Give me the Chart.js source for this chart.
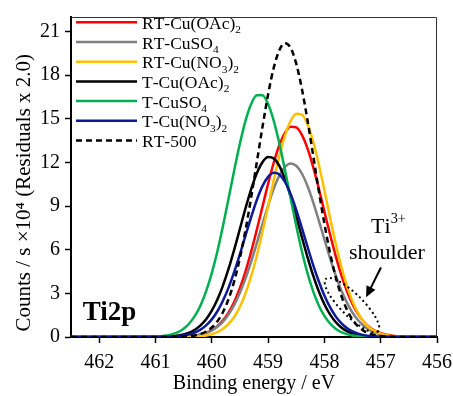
<!DOCTYPE html>
<html>
<head>
<meta charset="utf-8">
<script src="https://cdn.jsdelivr.net/npm/chart.js@4.4.0/dist/chart.umd.min.js"></script>
<style>
  html, body { margin: 0; padding: 0; background: #fff; }
  #wrap { width: 453px; height: 396px; }
</style>
</head>
<body>
<div id="wrap"><canvas id="chart" width="453" height="396"></canvas></div>
<script>
// Binding energy grid (eV)
const energies = [462.5,
  461.0, 460.9, 460.8, 460.7, 460.6, 460.5, 460.4, 460.3, 460.2, 460.1,
  460.0, 459.9, 459.8, 459.7, 459.6, 459.5, 459.4, 459.3, 459.2, 459.1,
  459.0, 458.9, 458.8, 458.7, 458.6, 458.5, 458.4, 458.3, 458.2, 458.1,
  458.0, 457.9, 457.8, 457.7, 457.6, 457.5, 457.4, 457.3, 457.2, 457.1,
  457.0, 456.9, 456.8, 456.7, 456.6,
  456.0];

// Counts / s x10^4
const rtCuOAc = [0,
  0.00, 0.00, 0.00, 0.01, 0.01, 0.03, 0.05, 0.10, 0.17, 0.29,
  0.47, 0.75, 1.14, 1.69, 2.43, 3.37, 4.52, 5.87, 7.37, 8.95,
  10.53, 11.98, 13.18, 14.04, 14.46, 14.41, 13.90, 12.97, 11.70, 10.22,
  8.63, 7.06, 5.58, 4.27, 3.16, 2.26, 1.57, 1.05, 0.68, 0.43,
  0.26, 0.15, 0.09, 0.05, 0.03,
  0];
const rtCuSO4 = [0,
  0.00, 0.00, 0.00, 0.01, 0.02, 0.03, 0.05, 0.09, 0.16, 0.28,
  0.45, 0.70, 1.06, 1.56, 2.21, 3.04, 4.03, 5.18, 6.45, 7.76,
  9.04, 10.18, 11.09, 11.69, 11.93, 11.77, 11.24, 10.38, 9.28, 8.02,
  6.71, 5.43, 4.25, 3.22, 2.36, 1.67, 1.15, 0.76, 0.49, 0.30,
  0.18, 0.11, 0.06, 0.03, 0.01,
  0];
const rtCuNO3 = [0,
  0.00, 0.00, 0.00, 0.00, 0.00, 0.01, 0.01, 0.03, 0.06, 0.11,
  0.19, 0.33, 0.56, 0.90, 1.39, 2.08, 3.01, 4.18, 5.59, 7.22,
  8.98, 10.77, 12.44, 13.84, 14.85, 15.35, 15.29, 14.63, 13.45, 11.88,
  10.09, 8.23, 6.44, 4.85, 3.51, 2.44, 1.63, 1.04, 0.64, 0.38,
  0.22, 0.12, 0.06, 0.03, 0.01,
  0];
const tCuOAc = [0,
  0.01, 0.01, 0.03, 0.05, 0.10, 0.18, 0.30, 0.50, 0.80, 1.22,
  1.81, 2.58, 3.55, 4.71, 6.03, 7.44, 8.86, 10.17, 11.26, 12.02,
  12.37, 12.28, 11.76, 10.85, 9.67, 8.30, 6.87, 5.49, 4.23, 3.14,
  2.25, 1.55, 1.03, 0.66, 0.41, 0.25, 0.14, 0.08, 0.04, 0.02,
  0.01, 0.00, 0.00, 0.00, 0.00,
  0];
const tCuSO4 = [0,
  0.03, 0.06, 0.11, 0.20, 0.34, 0.57, 0.93, 1.45, 2.17, 3.15,
  4.39, 5.90, 7.65, 9.55, 11.48, 13.31, 14.88, 16.02, 16.62, 16.62,
  16.02, 14.88, 13.31, 11.48, 9.55, 7.65, 5.90, 4.39, 3.15, 2.17,
  1.45, 0.93, 0.57, 0.34, 0.20, 0.11, 0.06, 0.03, 0.01, 0.01,
  0.00, 0.00, 0.00, 0.00, 0.00,
  0];
const tCuNO3 = [0,
  0.00, 0.01, 0.02, 0.03, 0.06, 0.11, 0.18, 0.31, 0.51, 0.80,
  1.21, 1.77, 2.51, 3.41, 4.49, 5.70, 6.98, 8.25, 9.42, 10.37,
  11.01, 11.29, 11.17, 10.67, 9.83, 8.74, 7.50, 6.21, 4.96, 3.83,
  2.85, 2.05, 1.42, 0.95, 0.61, 0.38, 0.23, 0.13, 0.07, 0.04,
  0.02, 0.01, 0.00, 0.00, 0.00,
  0];
const rt500 = [0,
  0.00, 0.00, 0.00, 0.01, 0.01, 0.03, 0.06, 0.11, 0.21, 0.38,
  0.65, 1.08, 1.72, 2.63, 3.86, 5.44, 7.37, 9.60, 12.01, 14.43,
  16.67, 18.50, 19.72, 20.20, 19.88, 18.79, 17.07, 14.90, 12.50, 10.07,
  7.80, 5.80, 4.14, 2.84, 1.88, 1.19, 0.72, 0.42, 0.24, 0.13,
  0.07, 0.03, 0.01, 0.00, 0.00,
  0];

const seriesLabels = ['RT-Cu(OAc)₂', 'RT-CuSO₄', 'RT-Cu(NO₃)₂', 'T-Cu(OAc)₂', 'T-CuSO₄', 'T-Cu(NO₃)₂', 'RT-500'];
const seriesValues = [rtCuOAc, rtCuSO4, rtCuNO3, tCuOAc, tCuSO4, tCuNO3, rt500];
const seriesColors = ['#ff0000', '#808080', '#ffc000', '#000000', '#00b050', '#0c1a9a', '#000000'];
const seriesOrder = [6, 5, 4, 3, 2, 1, 0];

const xTicks = [456, 457, 458, 459, 460, 461, 462];
const yTicks = [0, 3, 6, 9, 12, 15, 18, 21];

const SERIF = "'Liberation Serif', 'Times New Roman', serif";
Chart.defaults.font.family = SERIF;
Chart.defaults.color = '#000';

const datasets = seriesLabels.map((label, i) => ({
  label: label,
  data: energies.map((e, j) => ({ x: e, y: seriesValues[i][j] })),
  borderColor: seriesColors[i],
  borderWidth: 2.5,
  borderDash: label === 'RT-500' ? [6, 4] : [],
  pointRadius: 0,
  fill: false,
  cubicInterpolationMode: 'monotone',
  order: seriesOrder[i]
}));

// draws text where ₀-₉ become subscripts and ⁰-⁹ / ⁺ become superscripts
function drawRich(ctx, text, x, y, size, weight) {
  const subs = '₀₁₂₃₄₅₆₇₈₉', sups = '⁰¹²³⁴⁵⁶⁷⁸⁹';
  const w = weight ? weight + ' ' : '';
  ctx.textAlign = 'left';
  ctx.textBaseline = 'alphabetic';
  let cx = x;
  for (const ch of text) {
    let c = ch, s = size, dy = 0;
    if (subs.includes(ch)) { c = String(subs.indexOf(ch)); s = size * 0.65; dy = size * 0.25; }
    else if (sups.includes(ch)) { c = String(sups.indexOf(ch)); s = size * 0.65; dy = -size * 0.42; }
    else if (ch === '⁺') { c = '+'; s = size * 0.65; dy = -size * 0.42; }
    ctx.font = w + s + 'px ' + SERIF;
    ctx.fillText(c, cx, y + dy);
    cx += ctx.measureText(c).width;
  }
  return cx - x;
}

function richWidth(ctx, text, size) {
  const special = '₀₁₂₃₄₅₆₇₈₉⁰¹²³⁴⁵⁶⁷⁸⁹⁺';
  let wsum = 0;
  for (const ch of text) {
    const small = special.includes(ch);
    ctx.font = (small ? size * 0.65 : size) + 'px ' + SERIF;
    wsum += ctx.measureText(small ? '0' : ch).width;
  }
  return wsum;
}

const framePlugin = {
  id: 'frame',
  afterDraw(chart) {
    const { ctx, chartArea: a, scales: { x, y } } = chart;
    ctx.save();
    // thin top and right frame
    ctx.strokeStyle = '#333';
    ctx.lineWidth = 1;
    ctx.beginPath();
    ctx.moveTo(a.left, a.top + 0.5);
    ctx.lineTo(a.right - 0.5, a.top + 0.5);
    ctx.lineTo(a.right - 0.5, a.bottom);
    ctx.stroke();

    // legend
    ctx.fillStyle = '#000';
    chart.data.datasets.forEach((ds, i) => {
      const ly = 22.3 + i * 19.7;
      ctx.strokeStyle = ds.borderColor;
      ctx.lineWidth = 2.5;
      ctx.setLineDash(ds.borderDash);
      ctx.beginPath();
      ctx.moveTo(a.left + 5, ly);
      ctx.lineTo(a.left + 66, ly);
      ctx.stroke();
      ctx.setLineDash([]);
      drawRich(ctx, ds.label, a.left + 71, ly + 6.5, 17.5);
    });

    // Ti2p label
    ctx.fillStyle = '#000';
    ctx.font = 'bold 27px ' + SERIF;
    ctx.textAlign = 'left';
    ctx.fillText('Ti2p', x.getPixelForValue(462.29), y.getPixelForValue(1.15));

    // Ti3+ shoulder annotation
    const tx = x.getPixelForValue(456.87);
    let tw = richWidth(ctx, 'Ti³⁺', 22);
    drawRich(ctx, 'Ti³⁺', tx - tw / 2, y.getPixelForValue(7.17), 22);
    ctx.font = '22px ' + SERIF;
    ctx.textAlign = 'center';
    ctx.fillText('shoulder', x.getPixelForValue(456.89), y.getPixelForValue(5.38));

    // arrow
    const x1 = x.getPixelForValue(456.995), y1 = y.getPixelForValue(4.78);
    const x2 = x.getPixelForValue(457.26), y2 = y.getPixelForValue(2.73);
    const ang = Math.atan2(y2 - y1, x2 - x1);
    ctx.strokeStyle = '#000';
    ctx.lineWidth = 2;
    ctx.beginPath();
    ctx.moveTo(x1, y1);
    ctx.lineTo(x2 - 8 * Math.cos(ang), y2 - 8 * Math.sin(ang));
    ctx.stroke();
    ctx.beginPath();
    ctx.moveTo(x2, y2);
    ctx.lineTo(x2 - 11 * Math.cos(ang) + 5 * Math.sin(ang), y2 - 11 * Math.sin(ang) - 5 * Math.cos(ang));
    ctx.lineTo(x2 - 11 * Math.cos(ang) - 5 * Math.sin(ang), y2 - 11 * Math.sin(ang) + 5 * Math.cos(ang));
    ctx.closePath();
    ctx.fill();

    // dotted ellipse around the shoulder
    ctx.setLineDash([2, 3]);
    ctx.lineWidth = 2;
    ctx.beginPath();
    ctx.ellipse(x.getPixelForValue(457.51), y.getPixelForValue(2.19), 37, 11, Math.PI / 4, 0, Math.PI * 2);
    ctx.stroke();
    ctx.restore();
  }
};

const ctx = document.getElementById('chart').getContext('2d');
new Chart(ctx, {
  type: 'line',
  data: { datasets: datasets },
  options: {
    responsive: false,
    animation: false,
    layout: { padding: { top: 15, right: 16, left: 0, bottom: 0 } },
    plugins: { legend: { display: false }, tooltip: { enabled: false } },
    scales: {
      x: {
        type: 'linear',
        reverse: true,
        min: 456,
        max: 462.5,
        afterBuildTicks: s => { s.ticks = xTicks.map(v => ({ value: v })); },
        afterFit: s => { s.height = 59; },
        ticks: { font: { size: 20 }, color: '#000', padding: 8, maxRotation: 0, autoSkip: false },
        grid: { drawOnChartArea: false, drawTicks: true, tickLength: 6, tickColor: '#000', tickWidth: 1.5 },
        border: { color: '#000', width: 2 },
        title: { display: true, text: 'Binding energy / eV', font: { size: 20 }, color: '#000', padding: { top: 0, bottom: 0 } }
      },
      y: {
        min: 0,
        max: 22,
        afterBuildTicks: s => { s.ticks = yTicks.map(v => ({ value: v })); },
        afterFit: s => { s.width = 71; },
        ticks: { font: { size: 20 }, color: '#000', padding: 5, autoSkip: false },
        grid: { drawOnChartArea: false, drawTicks: true, tickLength: 6, tickColor: '#000', tickWidth: 1.5 },
        border: { color: '#000', width: 2 },
        title: { display: true, text: 'Counts / s ×10⁴ (Residuals x 2.0)\u00a0\u00a0\u00a0\u00a0\u00a0\u00a0', font: { size: 21 }, color: '#000', padding: { top: 12, bottom: 0 } }
      }
    }
  },
  plugins: [framePlugin]
});
</script>
</body>
</html>
